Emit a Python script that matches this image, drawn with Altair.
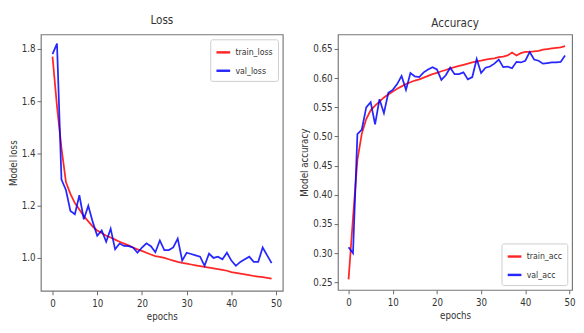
import altair as alt
import pandas as pd

epochs = list(range(50))

train_loss = [1.77, 1.58, 1.42, 1.29, 1.245, 1.21, 1.185, 1.16, 1.14, 1.12,
              1.105, 1.095, 1.085, 1.078, 1.07, 1.062, 1.055, 1.048, 1.04, 1.033,
              1.027, 1.02, 1.013, 1.007, 1.004, 1.0, 0.995, 0.99, 0.985, 0.981,
              0.978, 0.975, 0.972, 0.969, 0.966, 0.963, 0.96, 0.957, 0.954, 0.951,
              0.946, 0.943, 0.94, 0.937, 0.934, 0.931, 0.929, 0.927, 0.924, 0.921]
val_loss = [1.78, 1.82, 1.30, 1.26, 1.18, 1.167, 1.24, 1.148, 1.20, 1.137,
            1.085, 1.105, 1.062, 1.112, 1.033, 1.055, 1.046, 1.045, 1.04, 1.02,
            1.04, 1.056, 1.045, 1.022, 1.067, 1.03, 1.03, 1.04, 1.074, 0.99,
            1.02, 1.015, 1.01, 1.005, 0.97, 1.017, 1.0, 1.005, 0.995, 1.02,
            0.99, 0.97, 0.985, 0.995, 1.005, 0.985, 0.985, 1.04, 1.01, 0.98]

train_acc = [0.255, 0.36, 0.46, 0.505, 0.53, 0.545, 0.553, 0.56, 0.567, 0.572,
             0.577, 0.582, 0.586, 0.59, 0.593, 0.596, 0.598, 0.601, 0.604, 0.607,
             0.609, 0.612, 0.614, 0.617, 0.619, 0.621, 0.623, 0.625, 0.627, 0.629,
             0.63, 0.632, 0.633, 0.634, 0.636, 0.637, 0.639, 0.644, 0.639, 0.643,
             0.645, 0.645, 0.646, 0.647, 0.649, 0.65, 0.651, 0.652, 0.653, 0.655]
val_acc = [0.31, 0.30, 0.504, 0.512, 0.55, 0.559, 0.521, 0.564, 0.54, 0.575,
           0.58, 0.59, 0.604, 0.58, 0.609, 0.603, 0.602, 0.61, 0.615, 0.619,
           0.615, 0.597, 0.605, 0.618, 0.607, 0.607, 0.61, 0.598, 0.602, 0.633,
           0.609, 0.618, 0.62, 0.625, 0.632, 0.619, 0.62, 0.617, 0.628, 0.627,
           0.63, 0.645, 0.632, 0.63, 0.625, 0.626, 0.627, 0.627, 0.628, 0.639]

loss_df = pd.DataFrame({
    "epoch": epochs * 2,
    "value": train_loss + val_loss,
    "series": ["train_loss"] * 50 + ["val_loss"] * 50,
})
acc_df = pd.DataFrame({
    "epoch": epochs * 2,
    "value": train_acc + val_acc,
    "series": ["train_acc"] * 50 + ["val_acc"] * 50,
})

FONT = "'DejaVu Sans Condensed', 'Liberation Sans Narrow', 'Liberation Sans', sans-serif"
TXT = "#333333"

def x_axis():
    return alt.Axis(title="epochs", values=[0, 10, 20, 30, 40, 50], grid=False,
                    tickSize=4, labelPadding=4, titlePadding=4, labelFontSize=10,
                    titleFontSize=10, titleFontWeight="normal", labelColor=TXT,
                    titleColor=TXT, tickColor="#666", domain=False, labelFlush=False)

def y_axis(title, vals, fmt):
    return alt.Axis(title=title, values=vals, format=fmt, grid=False, tickSize=4,
                    labelPadding=2, titlePadding=3, labelFontSize=10, titleFontSize=10,
                    titleFontWeight="normal", labelColor=TXT, titleColor=TXT,
                    tickColor="#666", domain=False)

def legend(orient):
    return alt.Legend(title=None, orient=orient, symbolType="stroke",
                      symbolStrokeWidth=2.5, symbolSize=200, labelFontSize=9,
                      labelFont=FONT, labelColor=TXT, strokeColor="#cccccc",
                      fillColor="white", padding=5, cornerRadius=2, offset=5,
                      rowPadding=5, labelOffset=4)

loss = alt.Chart(loss_df, title=alt.Title("Loss", fontSize=12, fontWeight="normal",
                                          font=FONT, color=TXT, offset=8)).mark_line(
    strokeWidth=1.8, opacity=0.85
).encode(
    x=alt.X("epoch:Q", scale=alt.Scale(domain=[-2.6, 51.5], nice=False, zero=False),
            axis=x_axis()),
    y=alt.Y("value:Q", scale=alt.Scale(domain=[0.874, 1.855], nice=False, zero=False),
            axis=y_axis("Model loss", [1.0, 1.2, 1.4, 1.6, 1.8], ".1f")),
    color=alt.Color("series:N", scale=alt.Scale(domain=["train_loss", "val_loss"],
                                                range=["#ff0000", "#0000ff"]),
                    legend=legend("top-right")),
).properties(width=250, height=265)

acc = alt.Chart(acc_df, title=alt.Title("Accuracy", fontSize=12, fontWeight="normal",
                                        font=FONT, color=TXT, offset=5)).mark_line(
    strokeWidth=1.8, opacity=0.85
).encode(
    x=alt.X("epoch:Q", scale=alt.Scale(domain=[-2.4, 50.6], nice=False, zero=False),
            axis=x_axis()),
    y=alt.Y("value:Q", scale=alt.Scale(domain=[0.237, 0.675], nice=False, zero=False),
            axis=y_axis("Model accuracy",
                        [0.25, 0.30, 0.35, 0.40, 0.45, 0.50, 0.55, 0.60, 0.65], ".2f")),
    color=alt.Color("series:N", scale=alt.Scale(domain=["train_acc", "val_acc"],
                                                range=["#ff0000", "#0000ff"]),
                    legend=legend("bottom-right")),
).properties(width=242, height=264)

chart = alt.hconcat(loss, acc, spacing=16).resolve_scale(
    color="independent"
).resolve_legend(color="independent").properties(padding=0).configure(
    font=FONT
).configure_view(
    stroke="#777777", strokeWidth=1.2
).configure_axis(labelFont=FONT, titleFont=FONT)

chart.save("out.html", embed_options={"renderer": "svg", "actions": False})
